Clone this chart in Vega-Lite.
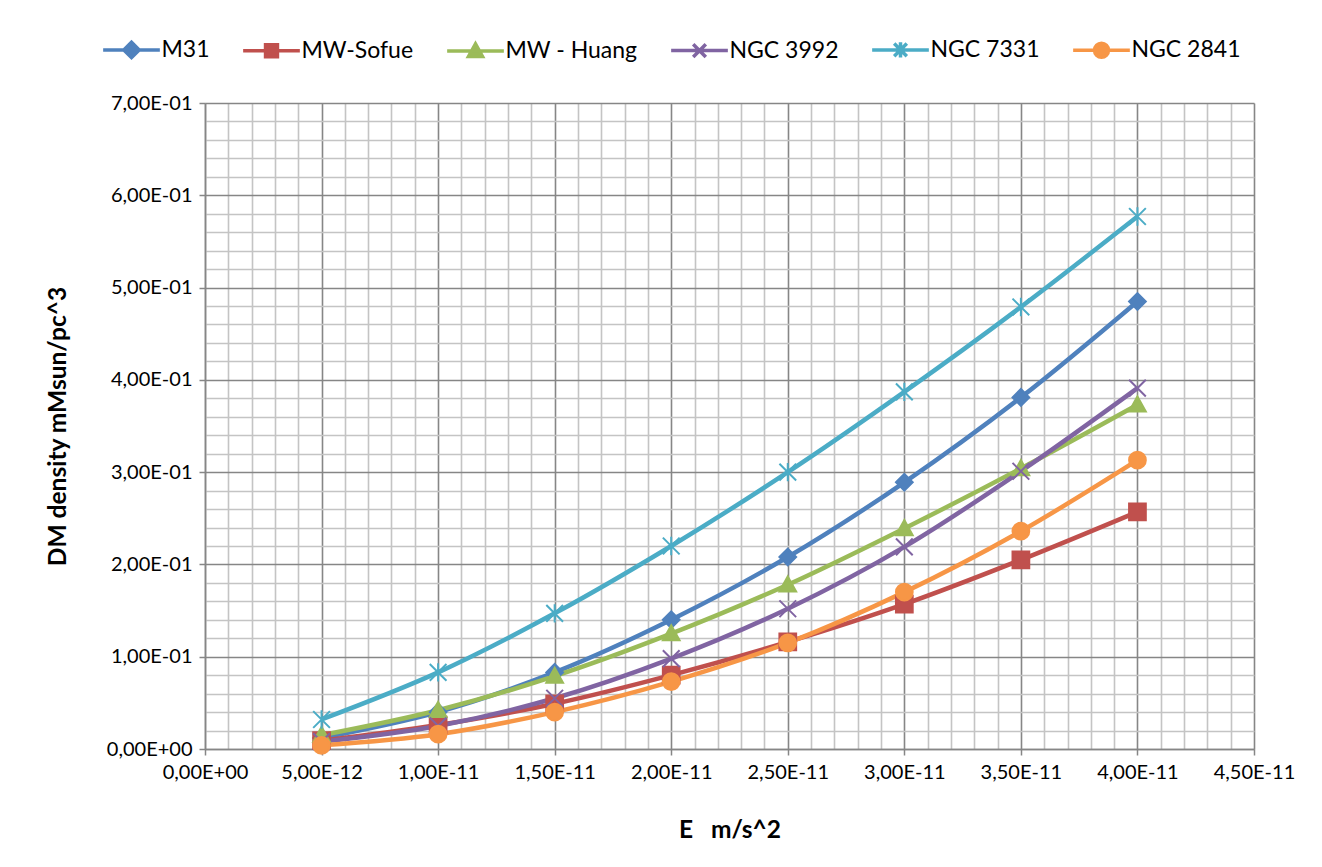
{
  "$schema": "https://vega.github.io/schema/vega-lite/v6.json",
  "width": 1049,
  "height": 646,
  "autosize": {"type": "none"},
  "padding": {"left": 205, "top": 103, "right": 68, "bottom": 118},
  "background": "white",
  "config": {
    "view": {"stroke": null},
    "font": "Lato",
    "axis": {"labelFont": "Lato", "titleFont": "Lato", "labelFontSize": 20, "titleFontSize": 24.5, "titleFontWeight": "bold", "labelColor": "#000000", "titleColor": "#000000", "domainColor": "#868686", "domainWidth": 1.5, "tickColor": "#868686", "tickWidth": 1.5, "tickSize": 6, "gridWidth": 1.6}
  },
  "data": {
    "values": [
      {"E": 5e-12, "s": "M31", "d": 0.012},
      {"E": 1e-11, "s": "M31", "d": 0.040},
      {"E": 1.5e-11, "s": "M31", "d": 0.083},
      {"E": 2e-11, "s": "M31", "d": 0.140},
      {"E": 2.5e-11, "s": "M31", "d": 0.208},
      {"E": 3e-11, "s": "M31", "d": 0.289},
      {"E": 3.5e-11, "s": "M31", "d": 0.381},
      {"E": 4e-11, "s": "M31", "d": 0.485},
      {"E": 5e-12, "s": "MW-Sofue", "d": 0.009},
      {"E": 1e-11, "s": "MW-Sofue", "d": 0.026},
      {"E": 1.5e-11, "s": "MW-Sofue", "d": 0.049},
      {"E": 2e-11, "s": "MW-Sofue", "d": 0.080},
      {"E": 2.5e-11, "s": "MW-Sofue", "d": 0.116},
      {"E": 3e-11, "s": "MW-Sofue", "d": 0.157},
      {"E": 3.5e-11, "s": "MW-Sofue", "d": 0.205},
      {"E": 4e-11, "s": "MW-Sofue", "d": 0.257},
      {"E": 5e-12, "s": "MW - Huang", "d": 0.015},
      {"E": 1e-11, "s": "MW - Huang", "d": 0.042},
      {"E": 1.5e-11, "s": "MW - Huang", "d": 0.079},
      {"E": 2e-11, "s": "MW - Huang", "d": 0.125},
      {"E": 2.5e-11, "s": "MW - Huang", "d": 0.178},
      {"E": 3e-11, "s": "MW - Huang", "d": 0.239},
      {"E": 3.5e-11, "s": "MW - Huang", "d": 0.304},
      {"E": 4e-11, "s": "MW - Huang", "d": 0.373},
      {"E": 5e-12, "s": "NGC 3992", "d": 0.008},
      {"E": 1e-11, "s": "NGC 3992", "d": 0.025},
      {"E": 1.5e-11, "s": "NGC 3992", "d": 0.055},
      {"E": 2e-11, "s": "NGC 3992", "d": 0.098},
      {"E": 2.5e-11, "s": "NGC 3992", "d": 0.152},
      {"E": 3e-11, "s": "NGC 3992", "d": 0.219},
      {"E": 3.5e-11, "s": "NGC 3992", "d": 0.301},
      {"E": 4e-11, "s": "NGC 3992", "d": 0.391},
      {"E": 5e-12, "s": "NGC 7331", "d": 0.032},
      {"E": 1e-11, "s": "NGC 7331", "d": 0.083},
      {"E": 1.5e-11, "s": "NGC 7331", "d": 0.147},
      {"E": 2e-11, "s": "NGC 7331", "d": 0.220},
      {"E": 2.5e-11, "s": "NGC 7331", "d": 0.300},
      {"E": 3e-11, "s": "NGC 7331", "d": 0.387},
      {"E": 3.5e-11, "s": "NGC 7331", "d": 0.479},
      {"E": 4e-11, "s": "NGC 7331", "d": 0.577},
      {"E": 5e-12, "s": "NGC 2841", "d": 0.004},
      {"E": 1e-11, "s": "NGC 2841", "d": 0.016},
      {"E": 1.5e-11, "s": "NGC 2841", "d": 0.040},
      {"E": 2e-11, "s": "NGC 2841", "d": 0.073},
      {"E": 2.5e-11, "s": "NGC 2841", "d": 0.115},
      {"E": 3e-11, "s": "NGC 2841", "d": 0.170},
      {"E": 3.5e-11, "s": "NGC 2841", "d": 0.236},
      {"E": 4e-11, "s": "NGC 2841", "d": 0.313}
    ]
  },
  "encoding": {
    "x": {
      "field": "E", "type": "quantitative",
      "scale": {"domain": [0, 4.5e-11], "nice": false, "zero": false},
      "title": "E\u00a0\u00a0\u00a0m/s^2",
      "axis": {
        "values": [0,1e-12,2e-12,3e-12,4e-12,5e-12,6e-12,7e-12,8e-12,9e-12,1e-11,1.1e-11,1.2e-11,1.3e-11,1.4e-11,1.5e-11,1.6e-11,1.7e-11,1.8e-11,1.9e-11,2e-11,2.1e-11,2.2e-11,2.3e-11,2.4e-11,2.5e-11,2.6e-11,2.7e-11,2.8e-11,2.9e-11,3e-11,3.1e-11,3.2e-11,3.3e-11,3.4e-11,3.5e-11,3.6e-11,3.7e-11,3.8e-11,3.9e-11,4e-11,4.1e-11,4.2e-11,4.3e-11,4.4e-11,4.5e-11],
        "labelExpr": "abs(datum.value/5e-12 - round(datum.value/5e-12)) < 1e-6 ? replace(replace(upper(format(datum.value, '.2e')), '.', ','), 'E+', 'E+0') : ''",
        "gridColor": {"condition": {"test": "abs(datum.value/5e-12 - round(datum.value/5e-12)) < 1e-6", "value": "#868686"}, "value": "#c4c4c4"},
        "tickOpacity": {"condition": {"test": "abs(datum.value/5e-12 - round(datum.value/5e-12)) < 1e-6", "value": 1}, "value": 0},
        "labelPadding": 7,
        "titlePadding": 36,
        "labelFlush": false,
        "labelOverlap": false
      }
    },
    "y": {
      "field": "d", "type": "quantitative",
      "scale": {"domain": [0, 0.7], "nice": false},
      "title": "DM density mMsun/pc^3",
      "axis": {
        "values": [0,0.02,0.04,0.06,0.08,0.1,0.12,0.14,0.16,0.18,0.2,0.22,0.24,0.26,0.28,0.3,0.32,0.34,0.36,0.38,0.4,0.42,0.44,0.46,0.48,0.5,0.52,0.54,0.56,0.58,0.6,0.62,0.64,0.66,0.68,0.7],
        "labelExpr": "abs(datum.value*10 - round(datum.value*10)) < 1e-6 ? replace(replace(replace(upper(format(datum.value, '.2e')), '.', ','), 'E-', 'E-0'), 'E+', 'E+0') : ''",
        "gridColor": {"condition": {"test": "abs(datum.value*10 - round(datum.value*10)) < 1e-6", "value": "#868686"}, "value": "#c4c4c4"},
        "tickOpacity": {"condition": {"test": "abs(datum.value*10 - round(datum.value*10)) < 1e-6", "value": 1}, "value": 0},
        "labelPadding": 7,
        "titlePadding": 36,
        "labelFlush": false,
        "labelOverlap": false
      }
    },
    "color": {
      "field": "s", "type": "nominal",
      "scale": {"domain": ["M31", "MW-Sofue", "MW - Huang", "NGC 3992", "NGC 7331", "NGC 2841"], "range": ["#4F81BD", "#C0504D", "#9BBB59", "#8064A2", "#4BACC6", "#F79646"]},
      "legend": {
        "orient": "none", "direction": "horizontal", "legendX": -85, "legendY": -65,
        "title": null, "symbolSize": 196, "symbolStrokeWidth": 3.5, "symbolOpacity": 1,
        "labelFont": "Lato", "labelFontSize": 23, "labelColor": "#000000", "labelOffset": 18.5, "columnPadding": 26,
        "encode": {
          "symbols": {
            "update": {
              "shape": {"signal": "datum.value === 'M31' ? 'M-4.05,0L4.05,0M0,-1.1L1.1,0L0,1.1L-1.1,0Z' : datum.value === 'MW-Sofue' ? 'M-4.05,0L4.05,0M-0.85,-0.85L0.85,-0.85L0.85,0.85L-0.85,0.85Z' : datum.value === 'MW - Huang' ? 'M-4.05,0L4.05,0M0,-1L1,0.8L-1,0.8Z' : datum.value === 'NGC 3992' ? 'M-4.05,0L4.05,0M-0.9,-0.9L0.9,0.9M-0.9,0.9L0.9,-0.9' : datum.value === 'NGC 7331' ? 'M-4.05,0L4.05,0M-0.9,-0.9L0.9,0.9M-0.9,0.9L0.9,-0.9M0,-1.1L0,1.1' : 'M-4.05,0L4.05,0M-1,0A1,1,0,1,0,1,0A1,1,0,1,0,-1,0Z'"},
              "fill": {"scale": "color", "field": "value"},
              "stroke": {"scale": "color", "field": "value"},
              "strokeWidth": {"value": 3.5}
            }
          }
        }
      }
    }
  },
  "layer": [
    {
      "mark": {"type": "line", "strokeWidth": 4.5, "interpolate": "monotone"},
      "encoding": {"detail": {"field": "s"}}
    },
    {
      "mark": {"type": "point", "filled": true, "size": 280, "opacity": 1, "strokeWidth": 2},
      "encoding": {
        "stroke": {"field": "s", "type": "nominal", "scale": {"range": ["#4F81BD", "#9BBB59", "#C0504D", "#F79646", "#8064A2", "#4BACC6"]}, "legend": null},
        "shape": {
          "field": "s", "type": "nominal",
          "scale": {"range": ["diamond", "M0,-1L1,0.8L-1,0.8Z", "square", "circle", "M-1,-1L1,1M-1,1L1,-1", "M-1,-1L1,1M-1,1L1,-1M0,-1.1L0,1.1"]},
          "legend": null
        }
      }
    }
  ]
}
